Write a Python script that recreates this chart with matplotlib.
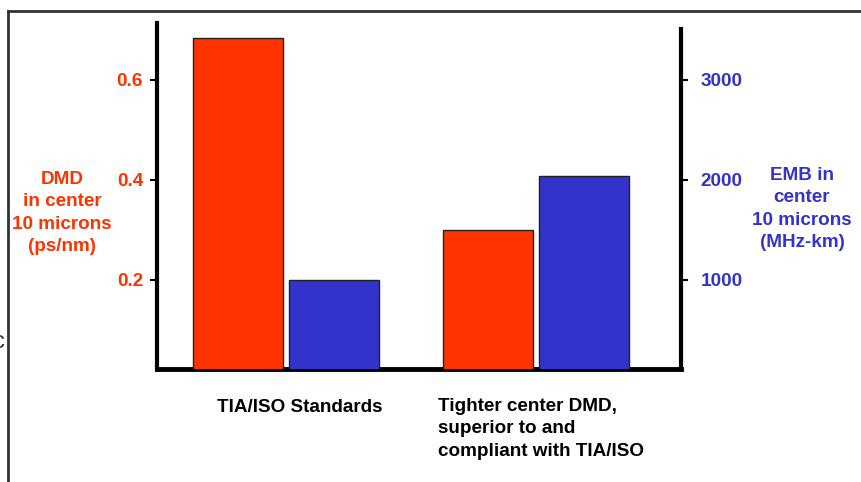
import matplotlib
matplotlib.use('Agg')
import matplotlib.pyplot as plt
from matplotlib.lines import Line2D
import numpy as np

# data
categories = ['TIA/ISO Standards', 'Tighter center DMD,\nsuperior to and\ncompliant with TIA/ISO']
dmd_values = [0.684, 0.30]        # ps/nm, left axis
emb_values = [1000, 2040]         # MHz-km, right axis
dmd_ticks = [0.2, 0.4, 0.6]
emb_ticks = [1000, 2000, 3000]

red = '#FF3300'
blue = '#3333CC'
plt.rcParams['font.family'] = ['Liberation Sans', 'DejaVu Sans']
plt.rcParams['font.weight'] = 'bold'

W, H = 862, 482
fig = plt.figure(figsize=(W / 100, H / 100), dpi=100)

# axes box in pixels
x0, x1, ytop, ybot = 157, 681, 23, 369
ax = fig.add_axes([x0 / W, 1 - ybot / H, (x1 - x0) / W, (ybot - ytop) / H])
ax2 = ax.twinx()

x = np.arange(len(categories))
bw = 0.36
off = 0.192
ax.bar(x - off, dmd_values, width=bw, color=red, edgecolor='#222222', linewidth=1, zorder=3)
ax2.bar(x + off, emb_values, width=bw, color=blue, edgecolor='#222222', linewidth=1, zorder=3)

ax.set_xlim(-0.516, -0.516 + (x1 - x0) / 250)
# zero sits at pixel 380, below the visible bottom
ax.set_ylim((380 - ybot) / 500, (380 - ytop) / 500)
ax2.set_ylim((380 - ybot) * 10, (380 - ytop) * 10)

for a in (ax, ax2):
    for s in a.spines.values():
        s.set_visible(False)
ax.spines['left'].set_visible(True)
ax.spines['left'].set_linewidth(3)
ax.spines['bottom'].set_visible(True)
ax.spines['bottom'].set_linewidth(3.5)
ax2.spines['right'].set_visible(True)
ax2.spines['right'].set_linewidth(3)
ax2.spines['right'].set_bounds((380 - ybot) * 10, (380 - 29) * 10)

ax.set_xticks([])
ax.set_yticks(dmd_ticks)
ax.set_yticklabels([f'{t:.1f}' for t in dmd_ticks])
ax.tick_params(axis='y', colors='black', labelcolor=red, labelsize=13.7,
               length=5, width=1.5, pad=5)
ax2.set_yticks(emb_ticks)
ax2.set_yticklabels([str(t) for t in emb_ticks])
ax2.tick_params(axis='y', colors='black', labelcolor=blue, labelsize=13.7,
                length=5, width=1.5, pad=9)
for lab in ax.get_yticklabels() + ax2.get_yticklabels():
    lab.set_fontweight('bold')

# axis titles
fig.text(62 / W, 1 - 213 / H, 'DMD\nin center\n10 microns\n(ps/nm)', color=red,
         ha='center', va='center', fontsize=13.6, fontweight='bold', linespacing=1.42)
fig.text(802 / W, 1 - 209 / H, 'EMB in\ncenter\n10 microns\n(MHz-km)', color=blue,
         ha='center', va='center', fontsize=13.6, fontweight='bold', linespacing=1.42)

# category labels
fig.text(300 / W, 1 - 407 / H, categories[0], ha='center', va='center',
         fontsize=13.6, fontweight='bold')
fig.text(438 / W, 1 - 398 / H, categories[1], ha='left', va='top',
         fontsize=13.6, fontweight='bold', linespacing=1.42)

# slide frame
fig.add_artist(Line2D([8 / W, 1], [1 - 11 / H, 1 - 11 / H], color='#333333', linewidth=2))
fig.add_artist(Line2D([8 / W, 8 / W], [1 - 11 / H, 0], color='#333333', linewidth=2))
fig.text(-7 / W, 1 - 342 / H, 'c', fontsize=17, color='#333333', va='center', fontweight='normal')

fig.savefig('out.png', dpi=100)
